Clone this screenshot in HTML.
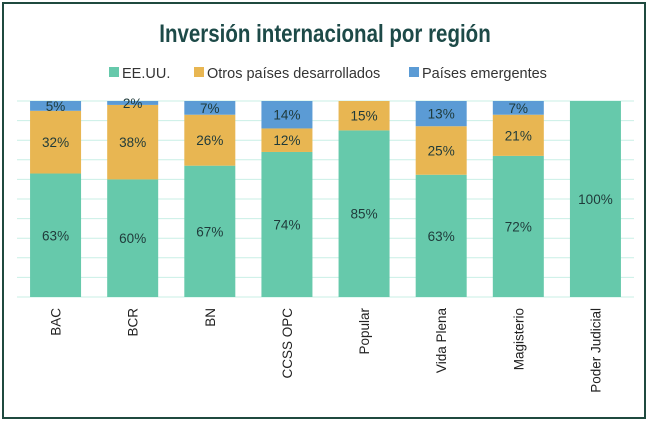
<!DOCTYPE html>
<html><head><meta charset="utf-8"><style>
body{margin:0;background:#fff;}
svg{display:block;font-family:"Liberation Sans",sans-serif;}
</style></head><body>
<svg width="650" height="422">
<rect x="3" y="3" width="642" height="415" fill="#fff" stroke="#1f4a3f" stroke-width="2"/>
<text x="325" y="42" text-anchor="middle" font-size="25" font-weight="bold" fill="#1d4a48" transform="translate(325 0) scale(0.82 1) translate(-325 0)">Inversión internacional por región</text>
<g id="legend" font-size="14.5" fill="#333">
<rect x="109" y="67" width="10" height="10" fill="#66c9ab"/>
<text x="122" y="78">EE.UU.</text>
<rect x="194" y="67" width="10" height="10" fill="#e8b652"/>
<text x="207" y="78">Otros países desarrollados</text>
<rect x="409" y="67" width="10" height="10" fill="#5b9bd5"/>
<text x="422" y="78">Países emergentes</text>
</g>
<g id="grid"></g>
<g id="bars"></g>
<g id="labels"></g>
</svg>
<script>
const categories=["BAC","BCR","BN","CCSS OPC","Popular","Vida Plena","Magisterio","Poder Judicial"];
const eeuu=[63,60,67,74,85,63,72,100];
const otros=[32,38,26,12,15,25,21,0];
const emergentes=[5,2,7,14,0,13,7,0];
const NS="http://www.w3.org/2000/svg";
const x0=17,x1=634,yTop=101,yBot=297;
const band=(x1-x0)/categories.length, bw=51;
const xPos=i=>x0+band*i+(band-bw)/2;
const yScale=p=>yBot-(yBot-yTop)*p/100;
function mk(tag,attrs,parent){const e=document.createElementNS(NS,tag);for(const k in attrs)e.setAttribute(k,attrs[k]);parent.appendChild(e);return e;}
const grid=document.getElementById('grid');
for(let t=0;t<=100;t+=10){
  const l=mk('line',{x1:x0,x2:x1,y1:yScale(t),y2:yScale(t),stroke:'#c9efe6','stroke-width':1},grid);
  
  
}
const bars=document.getElementById('bars'),labels=document.getElementById('labels');
const series=[[eeuu,'#66c9ab','eeuu'],[otros,'#e8b652','otros'],[emergentes,'#5b9bd5','emergentes']];
categories.forEach((c,i)=>{
  const tot=eeuu[i]+otros[i]+emergentes[i];
  let acc=0;
  series.forEach(([arr,col,nm])=>{
    const v=arr[i]; if(v<=0)return;
    const p0=acc*100/tot,p1=(acc+v)*100/tot; acc+=v;
    const r=mk('rect',{x:xPos(i),y:yScale(p1),width:bw,height:yScale(p0)-yScale(p1),fill:col},bars);
    
    
    const t=mk('text',{x:xPos(i)+bw/2,y:(yScale(p0)+yScale(p1))/2+5,'text-anchor':'middle','font-size':13.5,fill:'#1f3a3a'},labels);
    t.textContent=v+'%';
    
    
  });
  const cx=xPos(i)+bw/2+5;
  const t=mk('text',{x:cx,y:308,'text-anchor':'end','font-size':13.5,fill:'#222',transform:`rotate(-90 ${cx} 308)`},labels);
  t.textContent=c;
  
  
});
</script>
</body></html>
